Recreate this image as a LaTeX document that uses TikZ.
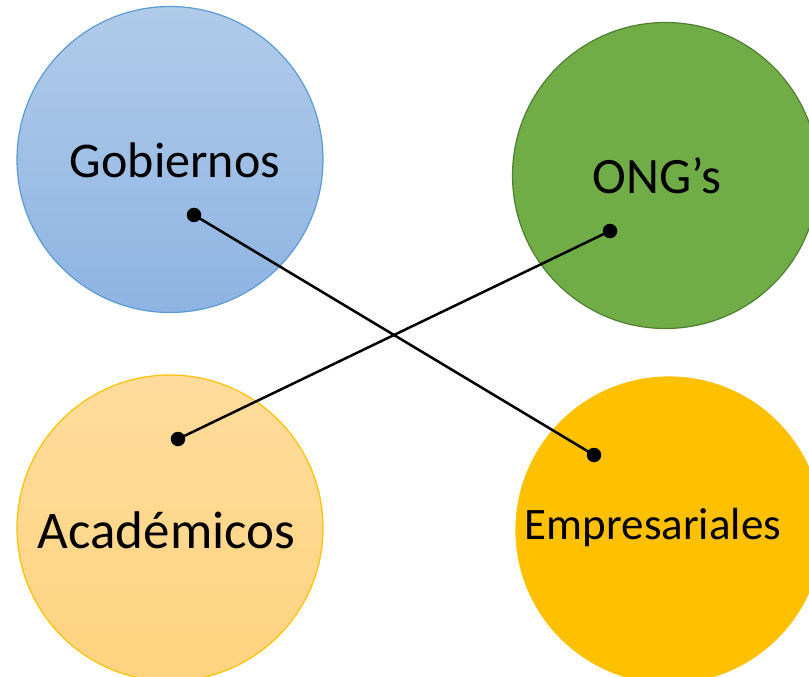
\documentclass[tikz,border=0pt]{standalone}
\usepackage{fontspec}
\setmainfont{Carlito}
\definecolor{blueTop}{HTML}{B1CBE9}
\definecolor{blueBot}{HTML}{8EB4E3}
\definecolor{blueLine}{HTML}{5B9BD5}
\definecolor{greenFill}{HTML}{70AD47}
\definecolor{greenLine}{HTML}{507E32}
\definecolor{peachTop}{HTML}{FFDC9C}
\definecolor{peachBot}{HTML}{FFD480}
\definecolor{gold}{HTML}{FFC000}
\tikzset{
  bubble/.style={circle, minimum size=306pt, inner sep=0pt, line width=1.2pt},
  label text/.style={anchor=base, inner sep=0pt, text=black},
  dot/.style={circle, fill=black, minimum size=14.5pt, inner sep=0pt},
  link/.style={line width=2.5pt, black}
}
\begin{document}
\begin{tikzpicture}[x=1pt,y=-1pt]
\useasboundingbox (0,0) rectangle (809,677);
\clip (0,0) rectangle (809,677);
\node[bubble, draw=blueLine, top color=blueTop, bottom color=blueBot] (gob) at (170,159.5) {};
\node[bubble, draw=greenLine, fill=greenFill] (ong) at (665.5,175.5) {};
\node[bubble, draw=gold, top color=peachTop, bottom color=peachBot] (aca) at (170,528) {};
\node[bubble, draw=gold, fill=gold] (emp) at (669,530) {};
\node[label text, font=\fontsize{50}{60}\selectfont] (tg) at (175,177) {Gobiernos};
\node[label text, font=\fontsize{51}{61}\selectfont] (to) at (657,193) {ONG’s};
\node[label text, font=\fontsize{53}{63}\selectfont] (ta) at (166.5,548) {Académicos};
\node[label text, font=\fontsize{45}{54}\selectfont] (te) at (653,539) {Empresariales};
\node[dot] (dg) at (194,215) {};
\node[dot] (do) at (610,231) {};
\node[dot] (da) at (178,439) {};
\node[dot] (de) at (594,455) {};
\draw[link] (dg.center) -- (de.center);
\draw[link] (do.center) -- (da.center);
\end{tikzpicture}
\end{document}
